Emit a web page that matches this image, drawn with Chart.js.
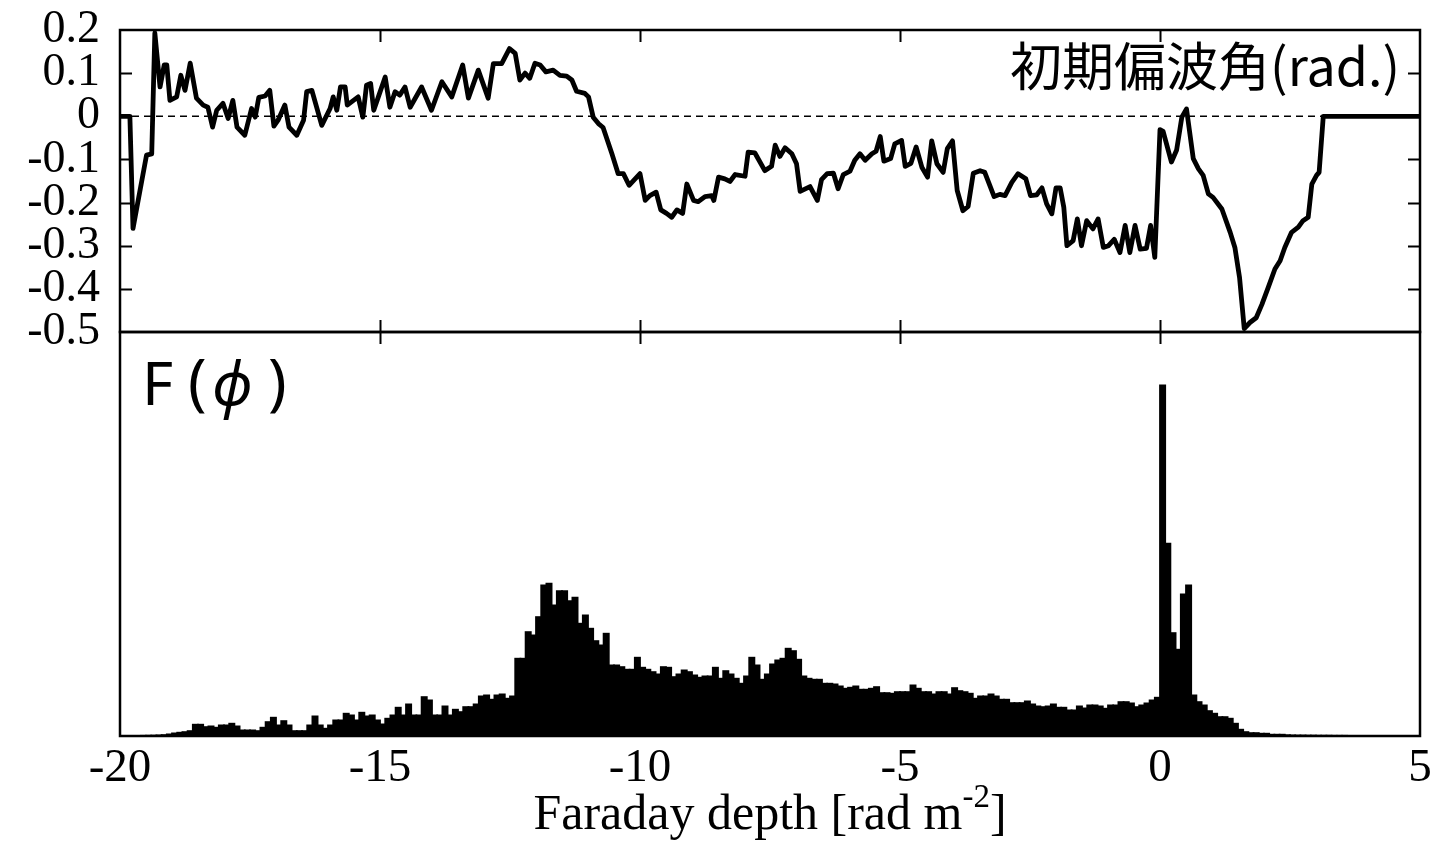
<!DOCTYPE html>
<html>
<head>
<meta charset="utf-8">
<script src="https://cdn.jsdelivr.net/npm/chart.js@4/dist/chart.umd.min.js"></script>
<style>
  html, body { margin: 0; padding: 0; background: #fff; }
  #wrap { position: relative; width: 1450px; height: 850px; }
  #wrap canvas { position: absolute; left: 0; top: 0; }
</style>
</head>
<body>
<div id="wrap">
  <canvas id="fChart" width="1450" height="850"></canvas>
  <canvas id="angChart" width="1450" height="850"></canvas>
</div>
<script>
// Shared Faraday-depth axis
const xMin = -20;
const xMax = 5;
const xTicks = [-20, -15, -10, -5, 0, 5];

// Initial polarization angle (rad) along Faraday depth
const angPhi = [
  -20.0, -19.81, -19.75, -19.49, -19.39, -19.33, -19.23, -19.15, -19.10, -19.04,
  -18.91, -18.83, -18.75, -18.65, -18.53, -18.40, -18.31, -18.22, -18.14, -18.02,
  -17.92, -17.83, -17.75, -17.60, -17.47, -17.40, -17.33, -17.21, -17.12, -17.04,
  -16.96, -16.83, -16.75, -16.60, -16.47, -16.41, -16.31, -16.12, -15.96, -15.90,
  -15.83, -15.76, -15.67, -15.63, -15.42, -15.33, -15.26, -15.18, -15.12, -15.02,
  -14.90, -14.81, -14.71, -14.62, -14.52, -14.42, -14.20, -14.01, -13.81, -13.62,
  -13.41, -13.30, -13.11, -12.92, -12.82, -12.66, -12.51, -12.40, -12.31, -12.21,
  -12.12, -12.02, -11.92, -11.81, -11.67, -11.54, -11.41, -11.31, -11.22, -11.06,
  -10.99, -10.90, -10.80, -10.71, -10.54, -10.42, -10.32, -10.21, -10.00, -9.90,
  -9.81, -9.69, -9.60, -9.49, -9.39, -9.29, -9.18, -9.10, -8.97, -8.88,
  -8.75, -8.62, -8.58, -8.49, -8.37, -8.27, -8.17, -7.98, -7.92, -7.79,
  -7.60, -7.47, -7.40, -7.31, -7.21, -7.08, -6.99, -6.92, -6.73, -6.59,
  -6.51, -6.40, -6.28, -6.19, -6.09, -5.96, -5.87, -5.77, -5.67, -5.54,
  -5.46, -5.38, -5.31, -5.18, -5.10, -4.97, -4.90, -4.79, -4.69, -4.58,
  -4.47, -4.39, -4.29, -4.17, -4.09, -3.99, -3.90, -3.79, -3.69, -3.59,
  -3.46, -3.37, -3.19, -3.08, -2.98, -2.85, -2.73, -2.58, -2.49, -2.37,
  -2.27, -2.18, -2.08, -2.00, -1.92, -1.85, -1.79, -1.67, -1.59, -1.51,
  -1.41, -1.29, -1.19, -1.09, -0.99, -0.88, -0.77, -0.67, -0.58, -0.48,
  -0.38, -0.26, -0.18, -0.10, 0.00, 0.06, 0.22, 0.32, 0.42, 0.51,
  0.64, 0.74, 0.83, 0.93, 1.02, 1.19, 1.35, 1.44, 1.53, 1.62,
  1.73, 1.85, 1.96, 2.08, 2.21, 2.31, 2.40, 2.53, 2.66, 2.75,
  2.85, 2.92, 3.01, 3.06, 3.14, 5.0
];
const angVal = [
  0, 0, -0.26, -0.09, -0.087, 0.193, 0.068, 0.119, 0.119, 0.037,
  0.045, 0.095, 0.06, 0.123, 0.042, 0.026, 0.021, -0.025, 0.014, 0.03,
  -0.005, 0.037, -0.025, -0.044, 0.018, -0.002, 0.044, 0.047, 0.06, -0.023,
  -0.009, 0.026, -0.025, -0.044, -0.009, 0.057, 0.06, -0.021, 0.018, 0.045,
  0.014, 0.068, 0.068, 0.026, 0.045, -0.002, 0.072, 0.076, 0.014, 0.049,
  0.091, 0.021, 0.057, 0.049, 0.068, 0.021, 0.068, 0.014, 0.080, 0.045,
  0.119, 0.042, 0.107, 0.042, 0.122, 0.122, 0.157, 0.146, 0.084, 0.1,
  0.088, 0.123, 0.119, 0.103, 0.107, 0.095, 0.093, 0.084, 0.058, 0.053,
  0.045, -0.002, -0.017, -0.026, -0.087, -0.133, -0.133, -0.16, -0.133, -0.195,
  -0.184, -0.176, -0.217, -0.225, -0.234, -0.217, -0.225, -0.157, -0.195, -0.198,
  -0.186, -0.184, -0.195, -0.141, -0.145, -0.151, -0.135, -0.139, -0.083, -0.085,
  -0.126, -0.116, -0.067, -0.093, -0.073, -0.087, -0.11, -0.174, -0.163, -0.195,
  -0.147, -0.133, -0.132, -0.168, -0.135, -0.127, -0.102, -0.087, -0.102, -0.087,
  -0.081, -0.047, -0.104, -0.098, -0.064, -0.056, -0.116, -0.109, -0.071, -0.118,
  -0.141, -0.057, -0.11, -0.13, -0.075, -0.057, -0.172, -0.219, -0.209, -0.132,
  -0.126, -0.13, -0.186, -0.181, -0.184, -0.153, -0.133, -0.145, -0.184, -0.182,
  -0.166, -0.203, -0.226, -0.166, -0.166, -0.211, -0.3, -0.288, -0.238, -0.3,
  -0.242, -0.261, -0.238, -0.304, -0.3, -0.285, -0.316, -0.253, -0.316, -0.253,
  -0.308, -0.306, -0.253, -0.327, -0.031, -0.035, -0.106, -0.078, -0.002, 0.017,
  -0.098, -0.122, -0.137, -0.18, -0.188, -0.215, -0.269, -0.304, -0.374, -0.492,
  -0.478, -0.467, -0.436, -0.397, -0.354, -0.335, -0.304, -0.269, -0.257, -0.242,
  -0.234, -0.157, -0.137, -0.13, 0, 0
];
const angTicks = [-0.5, -0.4, -0.3, -0.2, -0.1, 0, 0.1, 0.2];

// Faraday dispersion function |F(phi)|, arbitrary units, bins of 0.1 rad m^-2
const binLo = -20;
const binW = 0.1;
const fAmp = [
  0.3, 0.3, 0.4, 0.5, 0.6, 0.7, 0.8, 1.0, 1.3, 2.0,
  3.0, 3.7, 4.3, 5.3, 11.7, 11.7, 9.3, 10.0, 8.7, 11.0,
  11.0, 12.7, 10.0, 6.0, 6.0, 6.0, 5.3, 8.7, 14.3, 18.7,
  11.0, 15.3, 11.0, 5.3, 5.3, 5.3, 11.0, 20.0, 11.0, 7.7,
  11.0, 16.0, 16.0, 22.7, 21.0, 16.0, 23.7, 20.0, 21.0, 16.0,
  12.0, 17.7, 21.0, 28.7, 21.0, 32.0, 21.0, 21.0, 39.3, 36.0,
  21.0, 21.0, 30.0, 21.0, 26.7, 24.3, 29.3, 29.3, 32.0, 40.0,
  41.0, 36.7, 41.0, 42.0, 37.7, 40.0, 77.7, 77.7, 104.3, 101.0,
  119.3, 151.0, 152.7, 131.0, 145.3, 145.3, 135.3, 138.7, 112.7, 121.0,
  107.7, 95.3, 91.0, 102.7, 71.0, 71.0, 69.3, 66.7, 66.7, 78.7,
  68.7, 66.7, 64.3, 62.0, 69.3, 68.7, 59.3, 62.0, 66.0, 64.3,
  61.0, 58.7, 60.0, 60.0, 68.7, 57.7, 65.3, 62.0, 57.7, 52.7,
  60.0, 78.7, 71.0, 56.7, 62.0, 72.0, 76.0, 77.7, 87.7, 85.3,
  76.7, 60.0, 57.7, 56.7, 56.7, 52.7, 52.7, 52.0, 50.0, 47.7,
  48.7, 50.0, 46.7, 46.7, 47.7, 49.3, 43.3, 43.3, 42.7, 44.3,
  44.3, 44.3, 51.0, 47.7, 44.3, 44.3, 42.0, 44.3, 44.3, 42.0,
  48.3, 45.3, 44.3, 42.7, 37.7, 40.0, 40.0, 42.0, 40.0, 36.7,
  36.7, 33.3, 33.3, 33.3, 35.0, 32.0, 30.0, 29.3, 30.0, 32.0,
  28.7, 28.7, 26.0, 26.0, 30.0, 28.0, 31.0, 31.0, 30.0, 27.7,
  31.0, 31.0, 34.3, 34.3, 33.0, 29.3, 31.0, 33.0, 36.0, 38.7,
  351.0, 192.7, 103.3, 86.7, 142.0, 151.0, 41.0, 34.3, 31.0, 25.3,
  22.7, 19.3, 19.3, 17.7, 12.7, 6.7, 4.3, 3.3, 3.3, 2.7,
  2.7, 1.7, 1.7, 1.7, 1.2, 1.0, 0.9, 0.9, 0.8, 0.8,
  0.7, 0.7, 0.7, 0.6, 0.6, 0.6, 0.5, 0.5, 0.5, 0.5,
  0.4, 0.4, 0.4, 0.4, 0.4, 0.3, 0.3, 0.3, 0.3, 0.3
];
const fMax = 404;

const serif = "'Liberation Serif', 'DejaVu Serif', serif";
const sans = "'Noto Sans CJK JP', 'Noto Sans', sans-serif";

// Box frame with inward tick marks, gnuplot style
function framePlugin(yTickVals, extra) {
  return {
    id: 'frame',
    afterDraw(chart) {
      const { ctx, chartArea: a, scales } = chart;
      ctx.save();
      ctx.strokeStyle = '#000';
      ctx.lineWidth = 2.5;
      ctx.strokeRect(a.left, a.top, a.right - a.left, a.bottom - a.top);
      ctx.lineWidth = 2;
      ctx.beginPath();
      const L = 12;
      xTicks.forEach(v => {
        if (v <= xMin || v >= xMax) return;
        const px = Math.round(scales.x.getPixelForValue(v)) + 0.5;
        ctx.moveTo(px, a.top); ctx.lineTo(px, a.top + L);
        ctx.moveTo(px, a.bottom); ctx.lineTo(px, a.bottom - L);
      });
      if (yTickVals) {
        const ys = scales.y;
        yTickVals.forEach(v => {
          if (v <= ys.min || v >= ys.max) return;
          const py = Math.round(ys.getPixelForValue(v)) + 0.5;
          ctx.moveTo(a.left, py); ctx.lineTo(a.left + L, py);
          ctx.moveTo(a.right, py); ctx.lineTo(a.right - L, py);
        });
      }
      ctx.stroke();
      if (extra) extra(chart, ctx);
      ctx.restore();
    }
  };
}

// Lower panel: F(phi) histogram
new Chart(document.getElementById('fChart'), {
  type: 'bar',
  data: {
    datasets: [{
      data: fAmp.map((v, i) => ({ x: binLo + (i + 0.5) * binW, y: v })),
      backgroundColor: '#000',
      borderWidth: 0,
      barPercentage: 1.15,
      categoryPercentage: 1,
      inflateAmount: 0.5
    }]
  },
  options: {
    responsive: false,
    animation: false,
    layout: { padding: { top: 332, bottom: 0, left: 120, right: 30 } },
    plugins: { legend: { display: false }, tooltip: { enabled: false } },
    scales: {
      x: {
        type: 'linear', min: xMin, max: xMax, offset: false,
        afterBuildTicks: s => { s.ticks = xTicks.map(v => ({ value: v })); },
        ticks: { color: '#000', font: { family: serif, size: 47 }, padding: 4, maxRotation: 0, autoSkip: false, callback: v => String(v) },
        grid: { display: false, drawTicks: false, offset: false },
        border: { display: false },
        afterFit: s => { s.height = 114; s.paddingLeft = 0; s.paddingRight = 0; }
      },
      y: { display: false, min: 0, max: fMax }
    }
  },
  plugins: [framePlugin(null, (chart, ctx) => {
    const a = chart.chartArea;
    // panel label F(phi)
    ctx.fillStyle = '#000';
    ctx.textBaseline = 'alphabetic';
    ctx.textAlign = 'left';
    ctx.font = "60px 'Noto Sans', sans-serif";
    ctx.fillText('F', a.left + 22, 405);
    ctx.font = "62px 'Noto Sans', sans-serif";
    ctx.fillText('(', a.left + 68, 403);
    ctx.fillText(')', a.left + 148, 403);
    ctx.font = "italic 60px 'Noto Sans', 'DejaVu Sans', sans-serif";
    ctx.fillText('\u03D5', a.left + 92, 405);
    // axis title with superscript unit
    const main = 'Faraday depth [rad m';
    const sup = '-2';
    const tail = ']';
    ctx.font = `50px ${serif}`;
    const wMain = ctx.measureText(main).width;
    const wTail = ctx.measureText(tail).width;
    ctx.font = `33px ${serif}`;
    const wSup = ctx.measureText(sup).width;
    const cx = (a.left + a.right) / 2;
    const x0 = cx - (wMain + wSup + wTail) / 2;
    const base = 829;
    ctx.font = `50px ${serif}`;
    ctx.fillText(main, x0, base);
    ctx.font = `33px ${serif}`;
    ctx.fillText(sup, x0 + wMain, base - 22);
    ctx.font = `50px ${serif}`;
    ctx.fillText(tail, x0 + wMain + wSup, base);
  })]
});

// Upper panel: initial polarization angle
new Chart(document.getElementById('angChart'), {
  type: 'line',
  data: {
    datasets: [
      {
        data: angPhi.map((x, i) => ({ x, y: angVal[i] })),
        borderColor: '#000', borderWidth: 4.8, pointRadius: 0, tension: 0,
        borderJoinStyle: 'round', borderCapStyle: 'round', order: 1
      },
      {
        data: [{ x: xMin, y: 0 }, { x: xMax, y: 0 }],
        borderColor: '#000', borderWidth: 1.4, borderDash: [7, 5], pointRadius: 0, order: 2
      }
    ]
  },
  options: {
    responsive: false,
    animation: false,
    layout: { padding: { top: 30, bottom: 518, left: 0, right: 30 } },
    plugins: { legend: { display: false }, tooltip: { enabled: false } },
    scales: {
      x: { type: 'linear', display: false, min: xMin, max: xMax },
      y: {
        min: -0.5, max: 0.2,
        afterBuildTicks: s => { s.ticks = angTicks.map(v => ({ value: v })); },
        ticks: { color: '#000', font: { family: serif, size: 46 }, padding: 20, autoSkip: false,
                 callback: v => (Math.abs(v) < 1e-9 ? '0' : v.toFixed(1)) },
        grid: { display: false, drawTicks: false },
        border: { display: false },
        afterFit: s => { s.width = 120; s.paddingTop = 0; s.paddingBottom = 0; }
      }
    }
  },
  plugins: [framePlugin(angTicks, (chart, ctx) => {
    const a = chart.chartArea;
    ctx.fillStyle = '#000';
    ctx.textAlign = 'right';
    ctx.textBaseline = 'alphabetic';
    ctx.font = `52px ${sans}`;
    ctx.fillText('初期偏波角(rad.)', a.right - 20, 86);
  })]
});
</script>
</body>
</html>
